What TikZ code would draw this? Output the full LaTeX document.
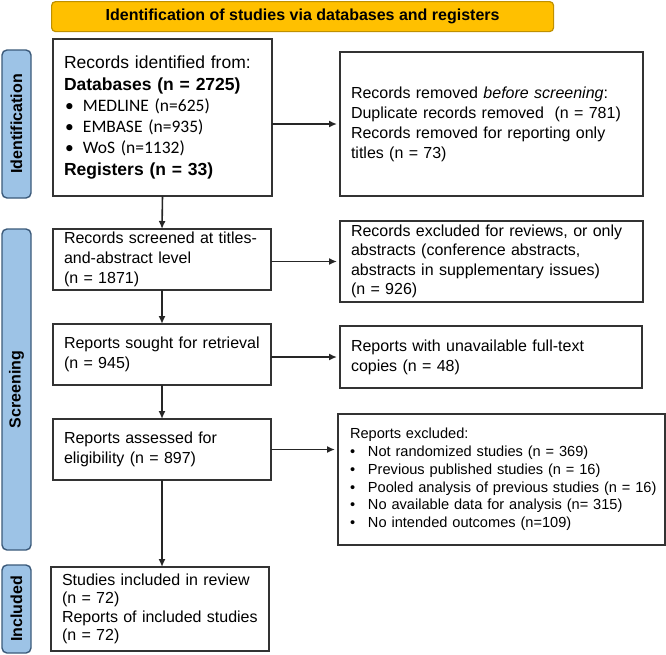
\documentclass[tikz,border=0pt]{standalone}
\usepackage{fontspec}
\setmainfont{Liberation Sans}
\newfontfamily\calfont{Carlito}
\usetikzlibrary{arrows.meta}
\newcommand\fsz[2]{\fontsize{#1}{#2}\selectfont}
\definecolor{hdrfill}{HTML}{FFC000}
\definecolor{hdrdraw}{HTML}{BF9000}
\definecolor{barfill}{HTML}{9DC3E6}
\definecolor{bardraw}{HTML}{3B5A7A}
\definecolor{boxc}{HTML}{333333}
\tikzset{
  box/.style={draw=boxc, line width=1.6pt, fill=white, inner xsep=11pt, inner ysep=0pt,
    outer sep=0pt, align=left, anchor=north west, font=\fsz{16}{20}},
  sidebar/.style={draw=bardraw, fill=barfill, line width=1.4pt, rounded corners=5pt,
    inner sep=0pt, outer sep=0pt, anchor=north west},
  sidelabel/.style={rotate=90, font=\bfseries\fsz{16}{18}, inner sep=0pt},
  arr/.style={draw=black!85, line width=1.6pt, -{Latex[length=8pt,width=7pt]}}
}
\newcommand\bl{\makebox[18pt][l]{\textbullet}}
\begin{document}
\begin{tikzpicture}[x=1pt,y=-1pt]
\useasboundingbox (0,0) rectangle (666,654);
% header
\node[draw=hdrdraw, fill=hdrfill, line width=1.2pt, rounded corners=4pt, anchor=north west,
  minimum width=502pt, minimum height=30pt, inner sep=0pt, font=\bfseries\fsz{16}{18}]
  (hdr) at (51,1) {Identification of studies via databases and registers};
% side bars
\node[sidebar, minimum width=29pt, minimum height=148pt] (idbar) at (2,50) {};
\node[sidelabel] (idlab) at (idbar.center) {Identification};
\node[sidebar, minimum width=29pt, minimum height=321pt] (scbar) at (2,229) {};
\node[sidelabel] (sclab) at (scbar.center) {Screening};
\node[sidebar, minimum width=29pt, minimum height=88pt] (inbar) at (2,565) {};
\node[sidelabel] (inlab) at (inbar.center) {Included};
% boxes
\node[box, text width=197pt, minimum height=157pt, font=\fsz{17.5}{21.3}] (rec) at (53,39)
  {Records identified from:\\
   {\bfseries Databases (n = 2725)}\\
   {\calfont\hspace*{1pt}\bl MEDLINE (n=625)}\\
   {\calfont\hspace*{1pt}\bl EMBASE (n=935)}\\
   {\calfont\hspace*{1pt}\bl WoS (n=1132)}\\
   {\bfseries Registers (n = 33)}};
\node[box, text width=281pt, minimum height=144pt] (rem) at (340,52)
  {Records removed \textit{before screening}:\\
   Duplicate records removed\ \ (n = 781)\\
   Records removed for reporting only\\
   titles (n = 73)};
\node[box, text width=196pt, minimum height=61pt] (scr) at (53,229)
  {Records screened at titles-\\
   and-abstract level\\
   (n = 1871)};
\node[box, text width=281pt, minimum height=81pt, font=\fsz{16}{19.5}] (exc) at (340,221)
  {Records excluded for reviews, or only\\
   abstracts (conference abstracts,\\
   abstracts in supplementary issues)\\
   (n = 926)};
\node[box, text width=196pt, minimum height=61pt] (sou) at (53,324)
  {Reports sought for retrieval\\
   (n = 945)};
\node[box, text width=280pt, minimum height=62pt] (una) at (340,326)
  {Reports with unavailable full-text\\
   copies (n = 48)};
\node[box, text width=196pt, minimum height=61pt] (ass) at (53,419)
  {Reports assessed for\\
   eligibility (n = 897)};
\node[box, text width=303pt, minimum height=131pt, inner xsep=12pt, font=\fsz{14.6}{17.8}] (rex) at (338,414)
  {Reports excluded:\\
   \mbox{\bl Not randomized studies (n = 369)}\\
   \mbox{\bl Previous published studies (n = 16)}\\
   \mbox{\bl Pooled analysis of previous studies (n = 16)}\\
   \mbox{\bl No available data for analysis (n= 315)}\\
   \mbox{\bl No intended outcomes (n=109)}};
\node[box, text width=196pt, minimum height=84pt, font=\fsz{16}{18.5}] (inc) at (51,567)
  {Studies included in review\\
   (n = 72)\\
   Reports of included studies\\
   (n = 72)};
% connectors
\draw[arr] (rec.south) -- (scr.north);
\draw[arr] (scr.south) -- (sou.north);
\draw[arr] (sou.south) -- (ass.north);
\draw[arr] (ass.south) -- (ass.south |- inc.north);
\draw[arr] (rec.east |- rem.west) -- ([xshift=-3pt]rem.west);
\draw[arr] (scr.east |- exc.west) -- ([xshift=-3pt]exc.west);
\draw[arr] (sou.east |- una.west) -- ([xshift=-3pt]una.west);
\draw[arr] (ass.east) -- ([xshift=-3pt]ass.east -| rex.west);
\end{tikzpicture}
\end{document}
